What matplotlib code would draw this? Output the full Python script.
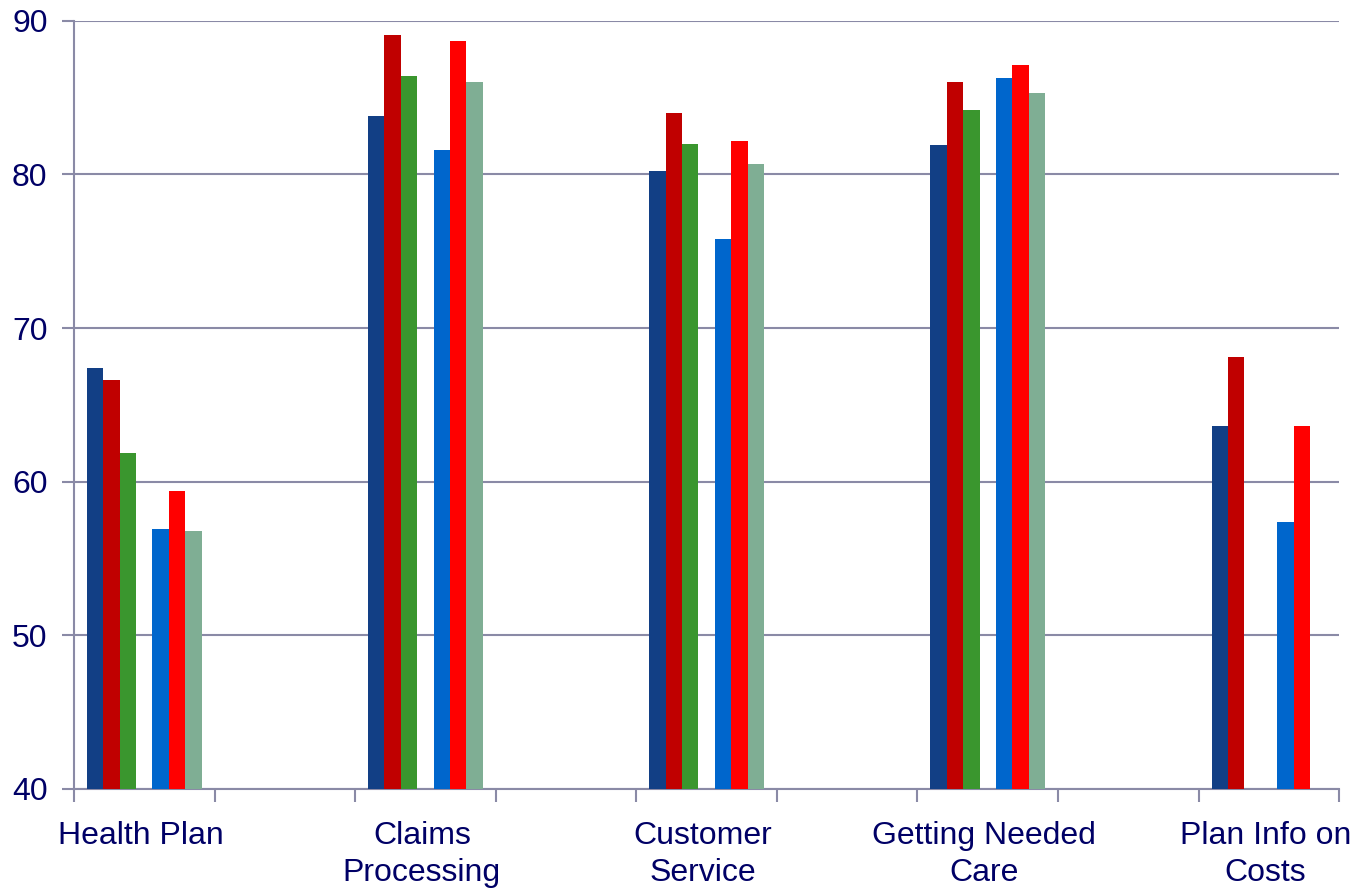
import matplotlib
matplotlib.use("Agg")
import matplotlib.pyplot as plt
import numpy as np

# nine category slots; data lives in every other slot, the rest stay empty
labels = ["Health Plan", "", "Claims\nProcessing", "", "Customer\nService", "",
          "Getting Needed\nCare", "", "Plan Info on\nCosts"]
nan = np.nan
s1 = [67.4, nan, 83.8, nan, 80.2, nan, 81.9, nan, 63.6]
s2 = [66.6, nan, 89.1, nan, 84.0, nan, 86.0, nan, 68.1]
s3 = [61.9, nan, 86.4, nan, 82.0, nan, 84.2, nan, nan]
s4 = [56.9, nan, 81.6, nan, 75.8, nan, 86.3, nan, 57.4]
s5 = [59.4, nan, 88.7, nan, 82.2, nan, 87.1, nan, 63.6]
s6 = [56.8, nan, 86.0, nan, 80.7, nan, 85.3, nan, nan]

series = [s1, s2, s3, s4, s5, s6]
colors = ["#123F85", "#C00000", "#3A962E", "#0066CC", "#FF0000", "#7FAE94"]
offsets = [-3, -2, -1, 1, 2, 3]  # slot 0 between the two trios is blank

plt.rcParams["font.family"] = ["Liberation Sans", "DejaVu Sans"]
text_color = "#000066"
axis_color = "#8A8AA6"

fig = plt.figure(figsize=(13.62, 8.88), dpi=100)
ax = fig.add_axes([0.0543, 0.1115, 0.929, 0.865])

x = np.arange(len(labels)) + 0.5
width = 0.1167
for vals, col, off in zip(series, colors, offsets):
    ax.bar(x + off * width, np.array(vals) - 40, width, bottom=40, color=col,
           edgecolor="none", zorder=3)

ax.set_xlim(0, len(labels))
ax.set_ylim(40, 90)
ax.set_yticks([40, 50, 60, 70, 80, 90])
ax.set_xticks(np.arange(len(labels) + 1))
ax.set_xticklabels([])
ax.set_xticks(x - 0.025, minor=True)
ax.set_xticklabels(labels, minor=True, fontsize=23, color=text_color,
                   linespacing=1.3)
ax.tick_params(axis="x", which="minor", length=0, pad=23)
ax.tick_params(axis="x", which="major", length=9, width=1.5, color=axis_color)
ax.tick_params(axis="y", length=9, width=1.5, color=axis_color, labelsize=23,
               labelcolor=text_color, pad=10)
ax.grid(axis="y", color=axis_color, linewidth=1.5, zorder=0)

for side in ("top", "right"):
    ax.spines[side].set_visible(False)
for side in ("left", "bottom"):
    ax.spines[side].set_color(axis_color)
    ax.spines[side].set_linewidth(1.5)

fig.savefig("out.png", dpi=100)
plt.close(fig)
